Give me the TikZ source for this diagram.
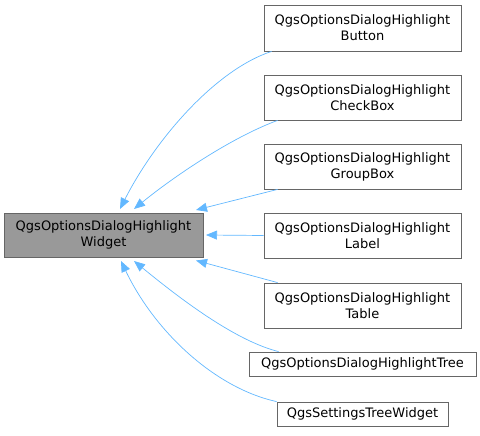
\documentclass[tikz,border=0pt]{standalone}
\usepackage{fontspec}
\setmainfont{DejaVu Sans}
\usetikzlibrary{arrows.meta}
\definecolor{edgeblue}{HTML}{63B8FF}
\definecolor{boxborder}{HTML}{666666}
\definecolor{basefill}{HTML}{999999}
\begin{document}
\begin{tikzpicture}[x=1pt,y=-1pt,
  cls/.style={draw=boxborder,fill=white,line width=0.8pt,inner sep=0pt,align=center,font=\fontsize{13}{16}\selectfont},
  base/.style={cls,fill=basefill},
  inh/.style={draw=edgeblue,line width=0.7pt,-{Triangle[length=11pt,width=9pt,fill=edgeblue]}}]
\useasboundingbox (0,0) rectangle (480,436);
\node[base,minimum width=199pt,minimum height=44pt] (W) at (103.5,235) {QgsOptionsDialogHighlight\\Widget};
\node[cls,minimum width=197pt,minimum height=46pt] (B) at (362.5,28) {QgsOptionsDialogHighlight\\Button};
\node[cls,minimum width=197pt,minimum height=45pt] (C) at (362.5,97.5) {QgsOptionsDialogHighlight\\CheckBox};
\node[cls,minimum width=197pt,minimum height=45pt] (G) at (362.5,166.5) {QgsOptionsDialogHighlight\\GroupBox};
\node[cls,minimum width=197pt,minimum height=45pt] (L) at (362.5,235.5) {QgsOptionsDialogHighlight\\Label};
\node[cls,minimum width=197pt,minimum height=45pt] (T) at (362.5,305.5) {QgsOptionsDialogHighlight\\Table};
\node[cls,minimum width=227pt,minimum height=24pt] (Tr) at (362.5,364) {QgsOptionsDialogHighlightTree};
\node[cls,minimum width=171pt,minimum height=24pt] (S) at (362.5,414) {QgsSettingsTreeWidget};
\coordinate (wb) at (120,209);
\coordinate (wc) at (134,209);
\coordinate (wg) at (196,210);
\coordinate (wl) at (206,235);
\coordinate (wt) at (196,260.5);
\coordinate (wtr) at (134,261);
\coordinate (ws) at (121,261);
\draw[inh] ([xshift=8pt]B.south west) .. controls (215,70) and (155,140) .. (wb);
\draw[inh] ([xshift=14pt]C.south west) .. controls (230,138) and (172,178) .. (wc);
\draw[inh] ([xshift=14pt]G.south west) -- (wg);
\draw[inh] (L.west) -- (wl);
\draw[inh] ([xshift=14pt]T.north west) -- (wt);
\draw[inh] ([xshift=30pt]Tr.north west) .. controls (232,340) and (172,292) .. (wtr);
\draw[inh] (S.north west) .. controls (215,388) and (155,332) .. (ws);
\end{tikzpicture}
\end{document}
